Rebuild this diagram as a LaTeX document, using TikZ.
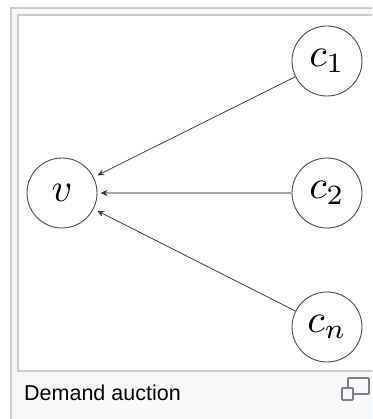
\documentclass[tikz,border=0pt]{standalone}
\usepackage{fontspec}
\usepackage{graphicx}
\setsansfont{Liberation Sans}
\usetikzlibrary{arrows.meta}
\definecolor{framebg}{HTML}{F8F9FA}
\definecolor{frameline}{HTML}{C8CCD1}
\definecolor{iconcol}{HTML}{7B7F85}
\newcommand{\biglab}[1]{\scalebox{4}{$#1$}}
\tikzset{
  vnode/.style={circle, draw=black!70, line width=0.9pt, minimum size=70pt, inner sep=0pt},
  conn/.style={draw=black!75, line width=0.8pt, -{Stealth[length=7pt,width=6pt]}, shorten >=4pt},
  connmid/.style={draw=black!35, line width=1.6pt, -{Stealth[length=7pt,width=6pt,color=black!80]}, shorten >=3pt},
}
\begin{document}
\begin{tikzpicture}[x=1pt,y=-1pt]
\useasboundingbox (0,0) rectangle (372,419);
\clip (0,0) rectangle (372,419);
\fill[white] (0,0) rectangle (372,419);
% outer frame
\draw[frameline, fill=framebg, line width=2.3pt] (10.7,7.8) rectangle (390,440);
% image area
\draw[frameline, fill=white, line width=2pt] (18.3,15) rectangle (390,370.5);
% nodes
\node[vnode] (v) at (62,193) {\biglab{v}};
\node[vnode] (c1) at (327,61) {\biglab{c_1}};
\node[vnode] (c2) at (327,193) {\biglab{c_2}};
\node[vnode] (cn) at (327,327) {\biglab{c_n}};
% connectors
\draw[conn] (c1) -- (v);
\draw[connmid] (c2) -- (v);
\draw[conn] (cn) -- (v);
% caption
\node[anchor=base west, inner sep=0pt, font=\sffamily\fontsize{21.5}{26}\selectfont] (cap) at (24,400) {Demand auction};
% enlarge icon
\draw[iconcol, line width=1.8pt, rounded corners=0.8pt] (348,378) rectangle (369,394);
\draw[iconcol, fill=framebg, line width=1.8pt, rounded corners=0.8pt] (342,388) rectangle (353,400);
\end{tikzpicture}
\end{document}
